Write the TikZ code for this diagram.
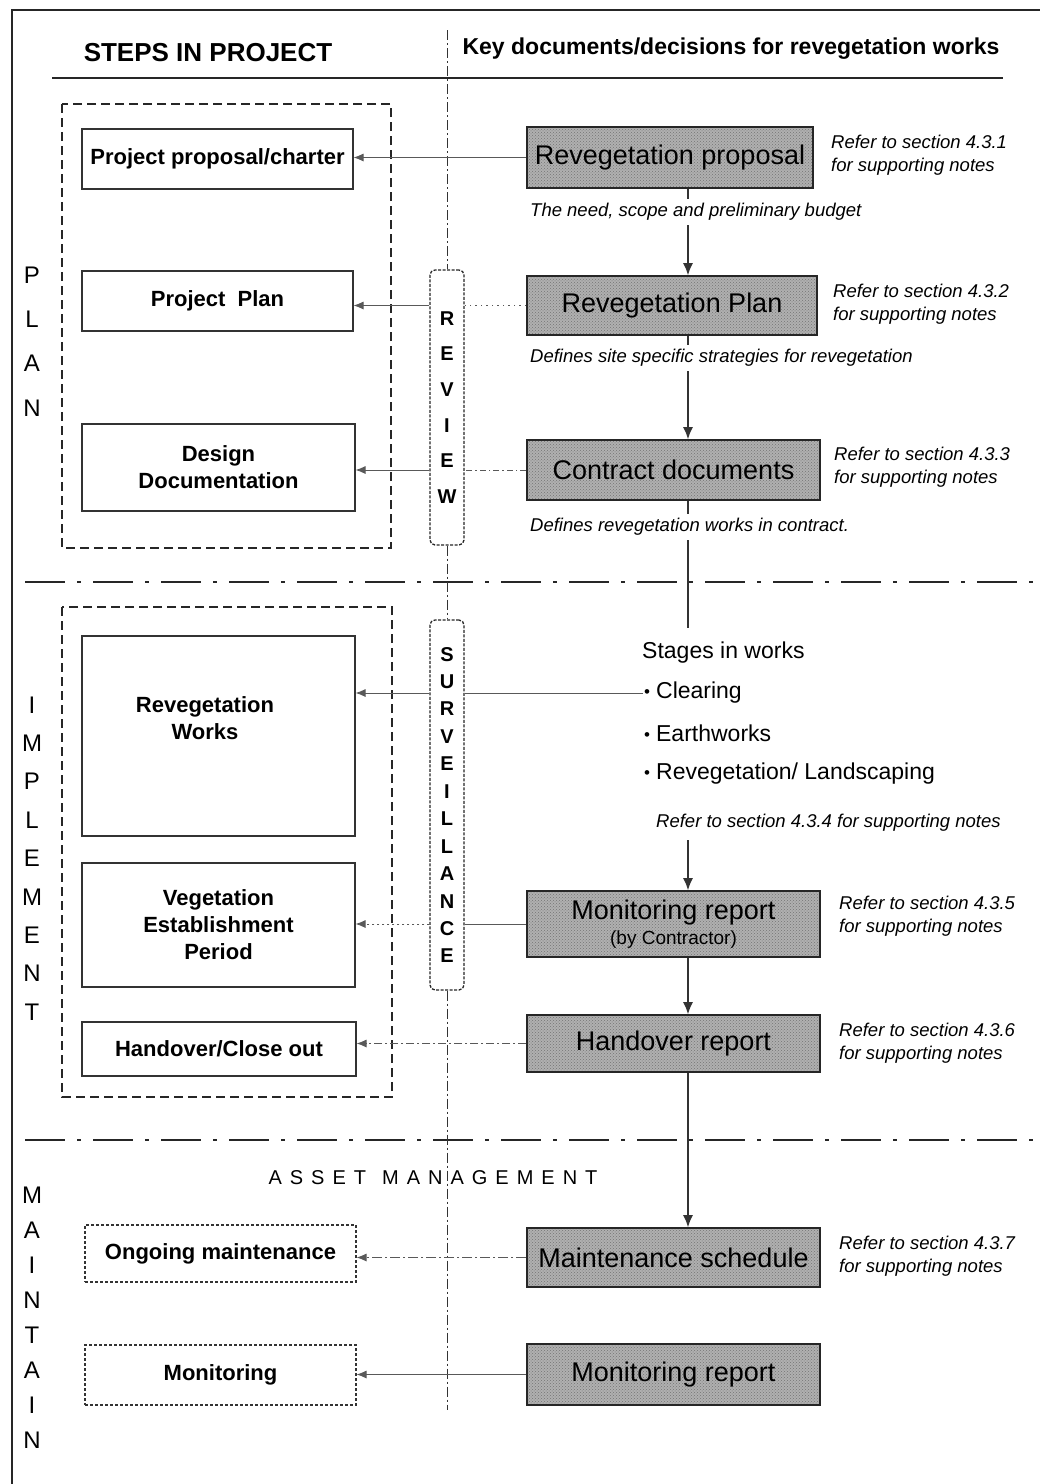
\documentclass[tikz,border=0pt]{standalone}
\usepackage{fontspec}
\setmainfont{Liberation Sans}
\usetikzlibrary{patterns,arrows.meta}
\newcommand\lsp{\hspace{8pt}}
\newcommand\bul{{\fontsize{17}{17}\selectfont\raisebox{1pt}{\textbullet}}\hspace{6pt}}
\begin{document}
\begin{tikzpicture}[x=1pt,y=-1pt,
  lbox/.style={draw=black!80, line width=1.1pt, font=\bfseries\fontsize{22}{27}\selectfont, align=center, inner sep=2pt},
  dbox/.style={lbox, dash pattern=on 3pt off 2pt},
  sbox/.style={draw=black!85, line width=1.6pt, preaction={fill=gray!62}, pattern=crosshatch dots, pattern color=black!55, font=\fontsize{27}{28}\selectfont, inner sep=1pt, minimum width=293, align=center},
  note/.style={font=\itshape\fontsize{18.5}{23}\selectfont, align=left, anchor=west, inner sep=1pt},
  capnote/.style={note, fill=white, inner sep=4pt},
  body/.style={font=\fontsize{23}{27}\selectfont, anchor=west, inner sep=1pt},
  vlet/.style={font=\fontsize{24}{#1}\selectfont, align=center, inner sep=0pt},
  tall/.style={draw=black!85, line width=1.3pt, dash pattern=on 3pt off 1.5pt, rounded corners=5pt, fill=white, minimum width=34, align=center, inner sep=0pt},
  grp/.style={draw=black!85, line width=1.5pt, dash pattern=on 9pt off 5pt},
  sep/.style={draw=black!85, line width=1.6pt, dash pattern=on 40pt off 12pt on 4pt off 12pt},
  divl/.style={draw=black!80, line width=1pt, dash pattern=on 10pt off 3pt on 2pt off 3pt},
  conn/.style={draw=black!65, line width=0.9pt},
  arr/.style={conn, -{Latex[length=10pt,width=8pt]}},
  varr/.style={draw=black!80, line width=1.4pt, -{Latex[length=12pt,width=10pt]}},
]
\useasboundingbox (0,0) rectangle (1040,1484);

% frame and headings
\draw[line width=1.6pt, black!85] (12,1484) -- (12,10) -- (1040,10);
\node[font=\bfseries\fontsize{26}{30}\selectfont, inner sep=0pt] (steps) at (208,53) {STEPS IN PROJECT};
\node[font=\bfseries\fontsize{23}{27}\selectfont, inner sep=0pt] (keyd) at (731,49) {Key documents/decisions for revegetation works};
\draw[line width=2.5pt, black!85] (52,78) -- (1003,78);

% groups and separators
\draw[grp] (62,104) rectangle (391,548);
\draw[grp] (62,607) rectangle (392,1097);
\draw[sep] (25,582) -- (1035,582);
\draw[sep] (25,1140) -- (1035,1140);

% phase letters
\node[vlet=44.3] (plan) at (32,341.5) {P\\L\\A\\N};
\node[vlet=38.4] (impl) at (32,858.5) {I\\M\\P\\L\\E\\M\\E\\N\\T};
\node[vlet=35] (maint) at (32,1317.5) {M\\A\\I\\N\\T\\A\\I\\N};

% left boxes
\node[lbox, minimum width=271, minimum height=60] (ppc) at (217.5,159) {Project proposal/charter};
\node[lbox, minimum width=271, minimum height=60] (pplan) at (217.5,301) {Project\ \ Plan};
\node[lbox, minimum width=273, minimum height=87] (design) at (218.5,467.5) {Design\\Documentation};
\node[lbox, minimum width=273, minimum height=200] (revworks) at (218.5,736) {};
\node[font=\bfseries\fontsize{22}{27}\selectfont, align=center] (rwlabel) at (205,718) {Revegetation\\Works};
\node[lbox, minimum width=273, minimum height=124] (vep) at (218.5,925) {Vegetation\\Establishment\\Period};
\node[lbox, minimum width=274, minimum height=54] (handover) at (219,1049) {Handover/Close out};
\node[dbox, minimum width=271, minimum height=57] (ongoing) at (220.5,1253.5) {Ongoing maintenance};
\node[dbox, minimum width=271, minimum height=60] (monit) at (220.5,1375) {Monitoring};

\node[font=\fontsize{20}{24}\selectfont, inner sep=0pt] (asset) at (433,1178) {A\lsp S\lsp S\lsp E\lsp T\hspace{16pt}M\lsp A\lsp N\lsp A\lsp G\lsp E\lsp M\lsp E\lsp N\lsp T};

% review / surveillance
\node[tall, minimum height=275, font=\bfseries\fontsize{20}{35.6}\selectfont] (review) at (447,407.5) {R\\E\\V\\I\\E\\W};
\node[tall, minimum height=370, font=\bfseries\fontsize{20}{27.45}\selectfont] (surv) at (447,805) {S\\U\\R\\V\\E\\I\\L\\L\\A\\N\\C\\E};
\coordinate (dtop) at (447,30);
\coordinate (dbot) at (447,1410);
\draw[divl] (dtop) -- (review.north);
\draw[divl] (review.south) -- (surv.north);
\draw[divl] (surv.south) -- (dbot);

% key documents
\node[sbox, minimum width=286, minimum height=61] (prop) at (670,157.5) {Revegetation proposal};
\node[sbox, minimum width=290, minimum height=59] (rplan) at (672,305.5) {Revegetation Plan};
\node[sbox, minimum height=60] (contract) at (673.5,470) {Contract documents};
\node[sbox, minimum height=66] (monrep) at (673.5,924) {Monitoring report\\[-3pt]{\fontsize{19}{21}\selectfont(by Contractor)}};
\node[sbox, minimum height=57] (hrep) at (673.5,1043.5) {Handover report};
\node[sbox, minimum height=59] (msched) at (673.5,1257.5) {Maintenance schedule};
\node[sbox, minimum height=61] (mrep2) at (673.5,1374.5) {Monitoring report};

\node[note] (ref1) at (830,155) {Refer to section 4.3.1\\for supporting notes};
\node[note] (ref2) at (832,304) {Refer to section 4.3.2\\for supporting notes};
\node[note] (ref3) at (833,467) {Refer to section 4.3.3\\for supporting notes};
\node[note] (ref5) at (838,916) {Refer to section 4.3.5\\for supporting notes};
\node[note] (ref6) at (838,1043) {Refer to section 4.3.6\\for supporting notes};
\node[note] (ref7) at (838,1256) {Refer to section 4.3.7\\for supporting notes};

\node[body] (stages) at (641,653) {Stages in works};
\node[body] (c1) at (643,693) {\bul Clearing};
\node[body] (c2) at (643,733) {\bul Earthworks};
\node[body] (c3) at (643,774) {\bul Revegetation/ Landscaping};
\node[note] (ref4) at (655,823) {Refer to section 4.3.4 for supporting notes};

% vertical flow
\coordinate (ax) at (688,0);
\coordinate (s1) at (688,628);
\coordinate (s2) at (688,840);
\draw[varr] (prop.south -| ax) -- (rplan.north -| ax);
\draw[varr] (rplan.south -| ax) -- (contract.north -| ax);
\draw[varr, -] (contract.south -| ax) -- (s1);
\draw[varr] (s2) -- (monrep.north -| ax);
\draw[varr] (monrep.south -| ax) -- (hrep.north -| ax);
\draw[varr] (hrep.south -| ax) -- (msched.north -| ax);

\node[capnote] (cap1) at (526,212) {The need, scope and preliminary budget};
\node[capnote] (cap2) at (526,358) {Defines site specific strategies for revegetation};
\node[capnote] (cap3) at (526,527) {Defines revegetation works in contract.};

% horizontal connectors
\draw[arr] (prop.west) -- (prop.west -| ppc.east);
\draw[conn, dash pattern=on 1.5pt off 4pt] (rplan.west) -- (rplan.west -| review.east);
\draw[arr] (rplan.west -| review.west) -- (rplan.west -| pplan.east);
\draw[conn, dash pattern=on 6pt off 3pt on 1.5pt off 3pt] (contract.west) -- (contract.west -| review.east);
\draw[arr] (contract.west -| review.west) -- (contract.west -| design.east);
\draw[conn] (c1.west) -- (c1.west -| surv.east);
\draw[arr] (c1.west -| surv.west) -- (c1.west -| revworks.east);
\draw[conn] (monrep.west) -- (monrep.west -| surv.east);
\draw[arr, dash pattern=on 2pt off 3pt] (monrep.west -| surv.west) -- (monrep.west -| vep.east);
\draw[arr, dash pattern=on 8pt off 3pt on 2pt off 3pt] (hrep.west) -- (hrep.west -| handover.east);
\draw[arr, dash pattern=on 10pt off 3pt on 2pt off 3pt] (msched.west) -- (msched.west -| ongoing.east);
\draw[arr] (mrep2.west) -- (mrep2.west -| monit.east);
\end{tikzpicture}
\end{document}
